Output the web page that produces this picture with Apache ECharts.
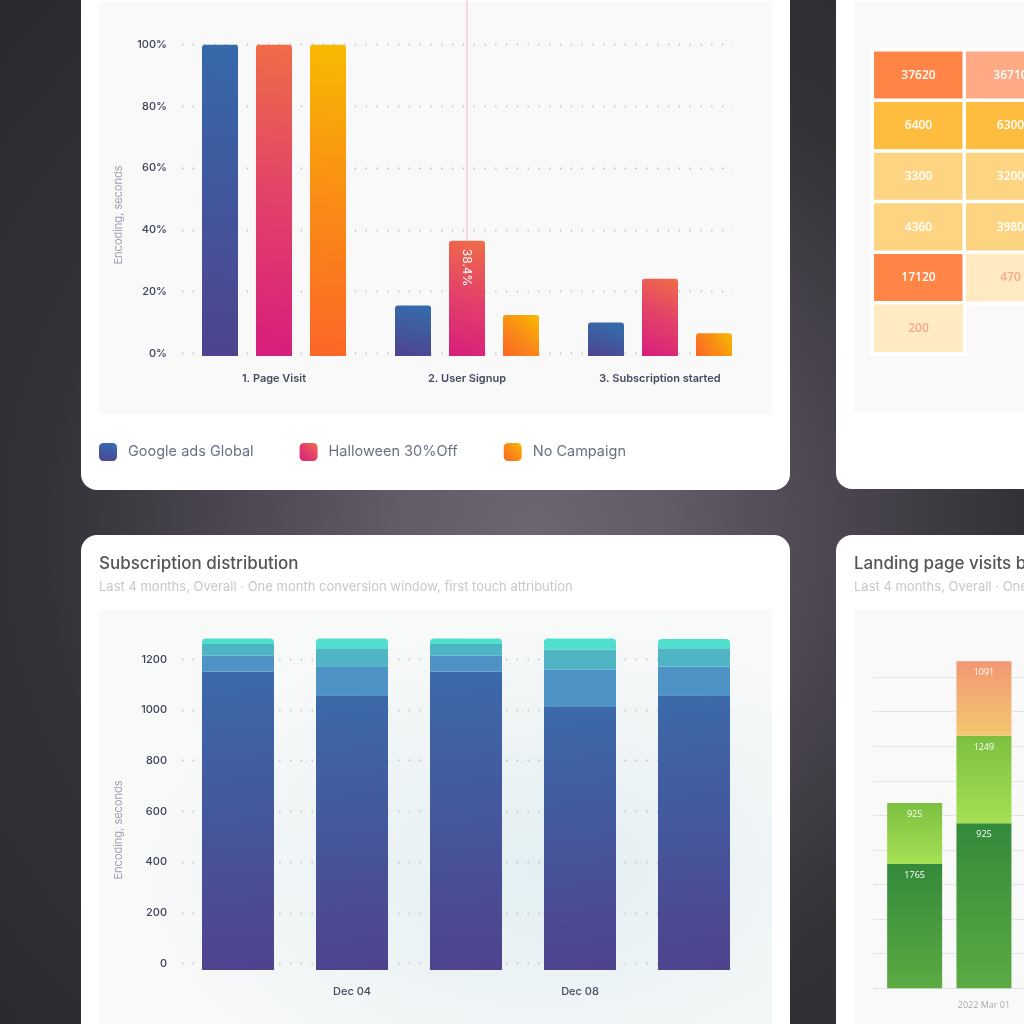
<!DOCTYPE html>
<html>
<head>
<meta charset="utf-8">
<script src="https://cdn.jsdelivr.net/npm/echarts@6/dist/echarts.min.js"></script>
<style>
html, body { margin: 0; padding: 0; }
body {
  width: 1024px; height: 1024px; overflow: hidden; position: relative;
  background: radial-gradient(circle at 52% 52%, #6d6571 0%, #635b67 18%, #4b4650 40%, #343137 65%, #2b292e 100%);
}
.card { position: absolute; background: #fff; border-radius: 16px; }
.panel { position: absolute; background: #f9f9f9; }
#chart { position: absolute; left: 0; top: 0; width: 1024px; height: 1024px; }
</style>
</head>
<body>
<div class="card" style="left:81px;top:-40px;width:709px;height:530px"></div>
<div class="panel" style="left:99px;top:2px;width:673px;height:412px"></div>
<div class="card" style="left:836px;top:-40px;width:260px;height:529px"></div>
<div class="panel" style="left:854px;top:2px;width:240px;height:410px"></div>
<div class="card" style="left:81px;top:535px;width:709px;height:540px"></div>
<div class="panel" style="left:99px;top:610px;width:673px;height:450px;background:radial-gradient(ellipse 60% 55% at 66% 58%, #e2eff2 0%, #ecf3f5 45%, #f8f9f9 100%)"></div>
<div class="card" style="left:836px;top:535px;width:260px;height:540px"></div>
<div class="panel" style="left:854px;top:610px;width:240px;height:450px"></div>
<div id="chart"></div>
<script>
// funnel (top left)
var funnelSteps = ['1. Page Visit', '2. User Signup', '3. Subscription started'];
var googleAds = [100, 16.2, 10.8];
var halloween = [100, 37.0, 24.8];
var noCampaign = [100, 13.2, 7.3];
var halloweenLabels = ['', '38.4%', ''];
var hoveredStep = 1; // the step with the pink cursor line

// heatmap (top right), rows top to bottom, null = empty cell
var heatValues = [
  [37620, 36710],
  [6400, 6300],
  [3300, 3200],
  [4360, 3980],
  [17120, 470],
  [200, null]
];
var heatTone = [
  [0, 1],
  [2, 2],
  [3, 3],
  [3, 3],
  [0, 4],
  [4, null]
];
var heatPalette = ['#ff8547', '#ffaa85', '#ffbd3f', '#fdd582', '#ffeac2'];

// subscription distribution (bottom left)
var subDays = ['Dec 02', 'Dec 04', 'Dec 06', 'Dec 08', 'Dec 10'];
var subBase = [1176, 1082, 1176, 1039, 1082];
var subSecond = [63, 114, 63, 144, 113];
var subThird = [45, 71, 45, 79, 72];
var subTop = [21, 38, 21, 43, 37];

// landing page visits (bottom right)
var landingDates = ['', '2022 Mar 01'];
var landingDark = [1797, 2385];
var landingLight = [882, 1266];
var landingOrange = [null, 1075];
var landingDarkLabels = ['1765', '925'];
var landingLightLabels = ['925', '1249'];
var landingOrangeLabels = ['', '1091'];

var FONT = 'Inter, "Noto Sans", sans-serif';
var dotted = { color: '#b3b6be', width: 1.3, type: [1.3, 9.5] };

function grad(x, y, x2, y2, stops) {
  return new echarts.graphic.LinearGradient(x, y, x2, y2, stops.map(function (c, i) {
    return { offset: i / (stops.length - 1), color: c };
  }));
}

var heatData = [];
heatValues.forEach(function (row, r) {
  row.forEach(function (v, c) {
    if (v == null) return;
    var item = { value: [c, r, v], itemStyle: { color: heatPalette[heatTone[r][c]] } };
    if (heatTone[r][c] === 4) item.label = { color: '#f5a98b' };
    heatData.push(item);
  });
});

var chart = echarts.init(document.getElementById('chart'));

var titleStyle = { fontFamily: FONT, fontSize: 17, fontWeight: 500, color: '#555555', lineHeight: 22 };
var subStyle = { fontFamily: FONT, fontSize: 13, color: '#c8c8c8', lineHeight: 18 };

var option = {
  backgroundColor: 'transparent',
  animation: false,
  title: [
    {
      left: 99, top: 553, padding: 0, itemGap: 3,
      text: 'Subscription distribution',
      subtext: 'Last 4 months, Overall · One month conversion window, first touch attribution',
      textStyle: titleStyle, subtextStyle: subStyle
    },
    {
      left: 854, top: 553, padding: 0, itemGap: 3,
      text: 'Landing page visits by',
      subtext: 'Last 4 months, Overall · One month conversion window, first touch attribution',
      textStyle: titleStyle, subtextStyle: subStyle
    }
  ],
  legend: {
    left: 99, top: 443, padding: 0,
    data: ['Google ads Global', 'Halloween 30%Off', 'No Campaign'],
    icon: 'roundRect', itemWidth: 18, itemHeight: 18, itemGap: 46,
    textStyle: { fontFamily: FONT, fontSize: 14.5, color: '#6b7185', padding: [0, 0, 0, 6] },
    selectedMode: false
  },
  graphic: [
    { id: 'name1', type: 'text', x: 119, y: 215, rotation: Math.PI / 2,
      style: { text: 'Encoding, seconds', fill: '#9ca1ae', font: '11px ' + FONT, align: 'center', verticalAlign: 'middle' } },
    { id: 'name2', type: 'text', x: 119, y: 830, rotation: Math.PI / 2,
      style: { text: 'Encoding, seconds', fill: '#9ca1ae', font: '11px ' + FONT, align: 'center', verticalAlign: 'middle' } }
  ],
  grid: [
    { left: 177.5, top: 44.7, width: 579, height: 311.3, outerBoundsMode: 'none' },   // funnel bars
    { left: 182, top: 44.7, width: 551, height: 308.6, outerBoundsMode: 'none' },     // funnel ticks
    { left: 872.5, top: 50, width: 184, height: 303.6, outerBoundsMode: 'none' },     // heatmap
    { left: 181, top: 614.5, width: 570, height: 355.5, outerBoundsMode: 'none' },    // subscription bars
    { left: 182, top: 659.3, width: 551, height: 304.2, outerBoundsMode: 'none' },    // subscription ticks
    { left: 880, top: 677, width: 138.6, height: 311.3, outerBoundsMode: 'none' },    // landing bars
    { left: 873.7, top: 677, width: 300, height: 311.3, outerBoundsMode: 'none' }     // landing lines
  ],
  xAxis: [
    { gridIndex: 0, type: 'category', data: funnelSteps,
      axisLine: { show: false }, axisTick: { show: false },
      axisLabel: { margin: 17, fontFamily: FONT, fontSize: 11, fontWeight: 600, color: '#434a5e' } },
    { gridIndex: 1, type: 'value', min: 0, max: 1, show: false },
    { gridIndex: 2, type: 'category', data: heatValues[0].map(function (d, i) { return i; }), show: false },
    { gridIndex: 3, type: 'category', data: subDays,
      axisLine: { show: false }, axisTick: { show: false },
      axisLabel: { margin: 16, interval: function (i) { return i % 2 === 1; },
        fontFamily: FONT, fontSize: 11, fontWeight: 500, color: '#434a5e' } },
    { gridIndex: 4, type: 'value', min: 0, max: 1, show: false },
    { gridIndex: 5, type: 'category', data: landingDates,
      axisLine: { show: false }, axisTick: { show: false },
      axisLabel: { margin: 13, interval: 0, fontFamily: '"Open Sans", sans-serif', fontSize: 9, color: '#a9a9a9' } },
    { gridIndex: 6, type: 'value', min: 0, max: 1, show: false }
  ],
  yAxis: [
    { gridIndex: 0, type: 'value', min: 0, max: 100, show: false },
    { gridIndex: 1, type: 'value', min: 0, max: 100, interval: 20,
      axisLine: { show: false }, axisTick: { show: false },
      axisLabel: { formatter: '{value}%', margin: 15, fontFamily: FONT, fontSize: 11, fontWeight: 500, color: '#3c4257' },
      splitLine: { lineStyle: dotted } },
    { gridIndex: 2, type: 'category', inverse: true, data: heatValues.map(function (d, i) { return i; }), show: false },
    { gridIndex: 3, type: 'value', min: 0, max: 1400, show: false },
    { gridIndex: 4, type: 'value', min: 0, max: 1200, interval: 200,
      axisLine: { show: false }, axisTick: { show: false },
      axisLabel: { formatter: function (v) { return String(v); }, margin: 15,
        fontFamily: FONT, fontSize: 11, fontWeight: 500, color: '#3c4257' },
      splitLine: { lineStyle: dotted } },
    { gridIndex: 5, type: 'value', min: 0, max: 4500, show: false },
    { gridIndex: 6, type: 'value', min: 0, max: 4500, interval: 500,
      axisLine: { show: false }, axisTick: { show: false }, axisLabel: { show: false },
      splitLine: { lineStyle: { color: '#e3e4e8', width: 1 } } }
  ],
  series: [
    { name: 'Google ads Global', type: 'bar', xAxisIndex: 0, yAxisIndex: 0,
      data: googleAds, barWidth: 36, barGap: '50%',
      itemStyle: { color: grad(0.3, 0, 0, 1, ['#3669aa', '#4e438f']), borderRadius: [3, 3, 0, 0] } },
    { name: 'Halloween 30%Off', type: 'bar', xAxisIndex: 0, yAxisIndex: 0,
      data: halloween.map(function (v, i) {
        if (!halloweenLabels[i]) return v;
        return { value: v, label: { show: true, formatter: halloweenLabels[i] } };
      }),
      barWidth: 36, barGap: '50%',
      label: { show: false, position: 'insideTop', distance: 8, rotate: -90, align: 'left', verticalAlign: 'middle',
        color: '#ffffff', fontFamily: FONT, fontSize: 12 },
      itemStyle: { color: grad(1, 0, 0, 1, ['#f06c47', '#e2416a', '#d81d7c']), borderRadius: [3, 3, 0, 0] } },
    { name: 'No Campaign', type: 'bar', xAxisIndex: 0, yAxisIndex: 0,
      data: noCampaign, barWidth: 36, barGap: '50%',
      itemStyle: { color: grad(1, 0, 0, 1, ['#f7ba00', '#fa8c16', '#fb6627']), borderRadius: [3, 3, 0, 0] } },

    { type: 'heatmap', xAxisIndex: 2, yAxisIndex: 2, data: heatData,
      itemStyle: { borderColor: '#ffffff', borderWidth: 3.5 },
      label: { show: true, formatter: function (p) { return p.value[2]; },
        fontFamily: '"Open Sans", sans-serif', fontSize: 12, fontWeight: 600, color: '#ffffff' },
      emphasis: { disabled: true } },

    { name: 'sub base', type: 'bar', stack: 'sub', xAxisIndex: 3, yAxisIndex: 3, data: subBase, barWidth: 72,
      itemStyle: { color: grad(0, 0, 0.3, 1, ['#3b6aaa', '#4f438e']) } },
    { name: 'sub second', type: 'bar', stack: 'sub', xAxisIndex: 3, yAxisIndex: 3, data: subSecond, barWidth: 72,
      itemStyle: { color: '#4d93c6' } },
    { name: 'sub third', type: 'bar', stack: 'sub', xAxisIndex: 3, yAxisIndex: 3, data: subThird, barWidth: 72,
      itemStyle: { color: '#4fb5c4' } },
    { name: 'sub top', type: 'bar', stack: 'sub', xAxisIndex: 3, yAxisIndex: 3, data: subTop, barWidth: 72,
      itemStyle: { color: '#50dfcd', borderRadius: [4, 4, 0, 0] } },

    { name: 'landing dark', type: 'bar', stack: 'land', xAxisIndex: 5, yAxisIndex: 5, data: landingDark,
      barWidth: 55, clip: false,
      itemStyle: { color: grad(0, 0, 0, 1, ['#348a3b', '#5caa42']) },
      label: { show: true, position: 'insideTop', distance: 7, color: '#ffffff', fontSize: 9,
        fontFamily: '"Open Sans", sans-serif', formatter: function (p) { return landingDarkLabels[p.dataIndex]; } } },
    { name: 'landing light', type: 'bar', stack: 'land', xAxisIndex: 5, yAxisIndex: 5, data: landingLight,
      barWidth: 55, clip: false,
      itemStyle: { color: grad(0, 0, 0, 1, ['#7cbf40', '#a6e155']) },
      label: { show: true, position: 'insideTop', distance: 7, color: '#ffffff', fontSize: 9,
        fontFamily: '"Open Sans", sans-serif', formatter: function (p) { return landingLightLabels[p.dataIndex]; } } },
    { name: 'landing orange', type: 'bar', stack: 'land', xAxisIndex: 5, yAxisIndex: 5, data: landingOrange,
      barWidth: 55, clip: false,
      itemStyle: { color: grad(0, 0, 0, 1, ['#f29873', '#f3c771']) },
      label: { show: true, position: 'insideTop', distance: 7, color: '#ffffff', fontSize: 9,
        fontFamily: '"Open Sans", sans-serif', formatter: function (p) { return landingOrangeLabels[p.dataIndex]; } } }
  ]
};

chart.setOption(option);

// pink cursor line above the hovered bar, placed through the chart's own scale
var barTop = chart.convertToPixel({ xAxisIndex: 0, yAxisIndex: 0 }, [funnelSteps[hoveredStep], halloween[hoveredStep]]);
chart.setOption({
  graphic: [{
    id: 'cursor', type: 'rect', silent: true, z: 1,
    shape: { x: Math.round(barTop[0]) - 0.6, y: 0, width: 1.2, height: barTop[1] },
    style: { fill: '#f5bfc9' }
  }]
});
window.onresize = chart.resize;
</script>
</body>
</html>
